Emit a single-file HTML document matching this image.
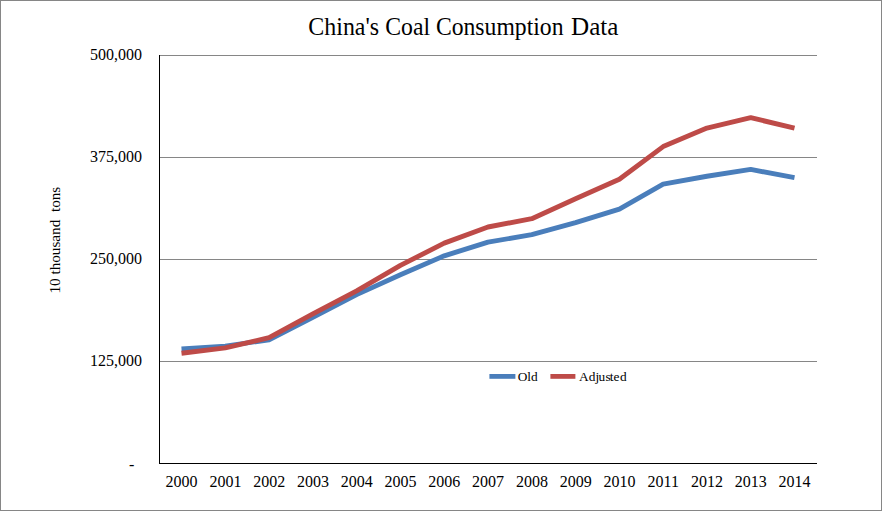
<!DOCTYPE html>
<html><head><meta charset="utf-8"><title>China's Coal Consumption Data</title>
<style>
html,body{margin:0;padding:0;background:#fff;}
body{width:882px;height:511px;overflow:hidden;font-family:"Liberation Serif",serif;}
#chart{position:relative;width:880px;height:509px;border:1px solid #868686;background:#fff;}
svg{position:absolute;left:-1px;top:-1px;}
text{font-family:"Liberation Serif",serif;fill:#000;}
</style></head><body><div id="chart">
<svg width="882" height="511" viewBox="0 0 882 511">
<line x1="160" y1="55.5" x2="817" y2="55.5" stroke="#868686" stroke-width="1"/>
<line x1="160" y1="157.5" x2="817" y2="157.5" stroke="#868686" stroke-width="1"/>
<line x1="160" y1="259.5" x2="817" y2="259.5" stroke="#868686" stroke-width="1"/>
<line x1="160" y1="361.5" x2="817" y2="361.5" stroke="#868686" stroke-width="1"/>
<line x1="159.5" y1="55" x2="159.5" y2="464" stroke="#000" stroke-width="1"/>
<line x1="159" y1="463.5" x2="817" y2="463.5" stroke="#000" stroke-width="1"/>
<polyline fill="none" stroke="#4A7EBB" stroke-width="4.9" stroke-linejoin="round" points="181.50,348.87 225.29,346.07 269.07,339.74 312.86,317.28 356.64,294.63 400.43,274.81 444.22,255.87 488.00,242.13 531.79,234.63 575.57,222.60 619.36,209.21 663.15,184.15 706.93,176.24 750.72,169.42 794.50,177.58"/>
<polyline fill="none" stroke="#BE4B48" stroke-width="4.9" stroke-linejoin="round" points="181.50,353.28 225.29,347.88 269.07,337.68 312.86,313.86 356.64,290.88 400.43,265.41 444.22,243.16 488.00,227.03 531.79,218.71 575.57,198.80 619.36,179.21 663.15,146.61 706.93,128.03 750.72,117.67 794.50,128.12"/>
<text y="35" font-size="24.2" lengthAdjust="spacingAndGlyphs"><tspan x="308.3" textLength="70.8" lengthAdjust="spacingAndGlyphs">China's</tspan><tspan x="385.3" textLength="44.8" lengthAdjust="spacingAndGlyphs">Coal</tspan><tspan x="435.9" textLength="127.6" lengthAdjust="spacingAndGlyphs">Consumption</tspan><tspan x="571.1" textLength="47.4" lengthAdjust="spacingAndGlyphs">Data</tspan></text>
<text x="142.1" y="59.6" font-size="16" text-anchor="end">500,000</text>
<text x="142.1" y="161.6" font-size="16" text-anchor="end">375,000</text>
<text x="142.1" y="263.6" font-size="16" text-anchor="end">250,000</text>
<text x="142.1" y="365.6" font-size="16" text-anchor="end">125,000</text>
<text x="134.3" y="469.5" font-size="16" text-anchor="end">-</text>
<text x="181.60" y="487" font-size="16" text-anchor="middle">2000</text>
<text x="225.39" y="487" font-size="16" text-anchor="middle">2001</text>
<text x="269.17" y="487" font-size="16" text-anchor="middle">2002</text>
<text x="312.96" y="487" font-size="16" text-anchor="middle">2003</text>
<text x="356.74" y="487" font-size="16" text-anchor="middle">2004</text>
<text x="400.53" y="487" font-size="16" text-anchor="middle">2005</text>
<text x="444.32" y="487" font-size="16" text-anchor="middle">2006</text>
<text x="488.10" y="487" font-size="16" text-anchor="middle">2007</text>
<text x="531.89" y="487" font-size="16" text-anchor="middle">2008</text>
<text x="575.67" y="487" font-size="16" text-anchor="middle">2009</text>
<text x="619.46" y="487" font-size="16" text-anchor="middle">2010</text>
<text x="663.25" y="487" font-size="16" text-anchor="middle">2011</text>
<text x="707.03" y="487" font-size="16" text-anchor="middle">2012</text>
<text x="750.82" y="487" font-size="16" text-anchor="middle">2013</text>
<text x="794.60" y="487" font-size="16" text-anchor="middle">2014</text>
<text transform="translate(60.2,293.6) rotate(-90)" font-size="15.3" textLength="106.9" lengthAdjust="spacingAndGlyphs" text-anchor="start" xml:space="preserve">10 thousand  tons</text>
<line x1="489.4" y1="376.4" x2="515.4" y2="376.4" stroke="#4A7EBB" stroke-width="4.8"/>
<text x="517.7" y="380.7" font-size="13.33">Old</text>
<line x1="550.4" y1="376.4" x2="575.4" y2="376.4" stroke="#BE4B48" stroke-width="4.8"/>
<text x="579.0 588.8 595.4 598.4 605.6 609.7 613.5 619.9" y="380.7" font-size="13.33">Adjusted</text>
</svg></div></body></html>
